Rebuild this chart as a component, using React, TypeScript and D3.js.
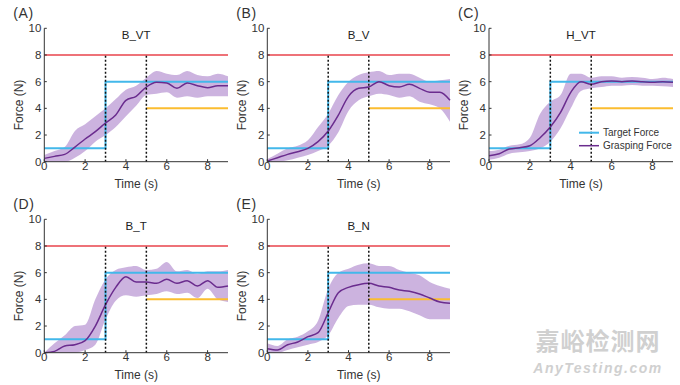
import React, { useEffect, useRef } from "react";
import * as d3 from "d3";

// sample times (s)
const time = [0, 0.5, 1, 1.5, 2, 2.5, 3, 3.5, 4, 4.5, 5, 5.5, 6, 6.5, 7, 7.5, 8, 8.5, 9];

// grasping force: mean and shaded band (N)
const meanBVT = [0.25, 0.4, 0.55, 1.1, 1.7, 2.25, 2.9, 3.5, 4.6, 4.9, 5.6, 5.95, 5.9, 5.5, 5.9, 5.7, 5.55, 5.7, 5.7];
const lowBVT = [0, 0, 0, 0.3, 0.8, 1.5, 2.0, 2.6, 3.4, 4.2, 5.0, 5.1, 5.2, 4.8, 4.9, 4.8, 4.9, 4.9, 4.9];
const highBVT = [0.5, 0.8, 1.1, 2.3, 2.8, 3.4, 4.0, 4.7, 5.4, 5.7, 6.3, 6.8, 6.6, 6.5, 6.8, 6.5, 6.4, 6.6, 6.4];

const meanBV = [0.05, 0.3, 0.55, 0.75, 1.0, 1.5, 2.3, 3.5, 4.9, 5.5, 5.6, 6.0, 5.7, 5.6, 5.8, 5.5, 5.2, 5.2, 4.6];
const lowBV = [0, 0, 0.1, 0.3, 0.5, 0.8, 1.2, 2.2, 3.8, 4.6, 4.9, 5.1, 5.0, 4.8, 4.9, 4.5, 4.3, 4.0, 3.0];
const highBV = [0.2, 0.6, 1.0, 1.2, 1.6, 2.6, 3.6, 5.0, 6.0, 6.5, 6.7, 6.8, 6.5, 6.6, 6.6, 6.3, 6.0, 6.1, 6.2];

const meanHVT = [0.45, 0.6, 0.95, 1.05, 1.2, 1.8, 2.6, 3.7, 5.2, 6.0, 5.8, 6.0, 6.05, 6.0, 6.05, 6.0, 5.95, 6.0, 5.95];
const lowHVT = [0.15, 0.3, 0.6, 0.7, 0.8, 1.0, 1.5, 2.5, 4.0, 5.3, 5.5, 5.6, 5.7, 5.7, 5.75, 5.7, 5.7, 5.65, 5.6];
const highHVT = [0.8, 0.9, 1.2, 1.3, 1.8, 3.6, 4.5, 5.0, 6.6, 6.6, 6.3, 6.4, 6.4, 6.3, 6.35, 6.3, 6.2, 6.3, 6.2];

const meanBT = [0, 0.1, 0.5, 0.6, 0.9, 2.0, 3.6, 4.9, 5.7, 5.3, 5.3, 5.2, 5.5, 5.2, 5.4, 5.0, 5.4, 4.9, 5.0];
const lowBT = [0, 0, 0, 0, 0.2, 0.6, 2.5, 3.9, 4.3, 4.2, 4.3, 4.4, 4.6, 4.4, 4.5, 4.1, 4.8, 4.0, 3.8];
const highBT = [0, 0.7, 1.3, 2.0, 2.1, 4.0, 5.5, 6.2, 6.4, 6.5, 6.2, 6.3, 6.8, 6.1, 6.2, 5.9, 6.1, 6.1, 6.2];

const meanBN = [0.3, 0.2, 0.6, 0.8, 1.2, 1.5, 3.0, 4.5, 4.9, 5.1, 5.2, 5.0, 4.9, 4.7, 4.6, 4.4, 4.1, 3.8, 3.7];
const lowBN = [0, 0, 0.2, 0.4, 0.6, 0.8, 1.3, 2.6, 3.5, 3.6, 3.6, 3.4, 3.3, 3.3, 3.1, 2.8, 2.5, 2.5, 2.5];
const highBN = [0.7, 0.5, 1.0, 1.2, 1.6, 2.4, 4.8, 6.0, 6.3, 6.6, 6.7, 6.5, 6.5, 6.2, 6.0, 5.8, 5.3, 5.0, 4.8];

// reference lines
const targetTime = [0, 3, 3, 9];
const targetForce = [1, 1, 6, 6];
const limitForce = 8;
const lowerTime = [5, 9];
const lowerForce = 4;
const markerTimes = [3, 5];

const titles = ["B_VT", "B_V", "H_VT", "B_T", "B_N"];
const letters = ["(A)", "(B)", "(C)", "(D)", "(E)"];
const xTicks = [0, 2, 4, 6, 8];
const yTicks = [0, 2, 4, 6, 8, 10];
const legendLabels = ["Target Force", "Grasping Force"];

const panels = [
  { mean: meanBVT, low: lowBVT, high: highBVT },
  { mean: meanBV, low: lowBV, high: highBV },
  { mean: meanHVT, low: lowHVT, high: highHVT },
  { mean: meanBT, low: lowBT, high: highBT },
  { mean: meanBN, low: lowBN, high: highBN },
];

const boxes = [
  { left: 44.3, right: 228, top: 28.3, bottom: 161.7 },
  { left: 267.3, right: 450, top: 28.3, bottom: 161.7 },
  { left: 489, right: 673, top: 28.3, bottom: 161.7 },
  { left: 44.3, right: 228, top: 219.3, bottom: 352.7 },
  { left: 267.3, right: 450, top: 219.3, bottom: 352.7 },
];

const RED = "#e8434b";
const BLUE = "#43b8ea";
const ORANGE = "#fbbd30";
const PURPLE = "#6a2c8e";
const BAND = "#c7abdb";
const INK = "#333";
const FONT = "Arial, 'Liberation Sans', sans-serif";

export default function App() {
  const ref = useRef<SVGSVGElement>(null);

  useEffect(() => {
    const svg = d3.select(ref.current);
    svg.selectAll("*").remove();

    panels.forEach((p, i) => {
      const b = boxes[i];
      const x = d3.scaleLinear().domain([0, 9]).range([b.left, b.right]);
      const y = d3.scaleLinear().domain([0, 10]).range([b.bottom, b.top]);
      const g = svg.append("g");

      const area = d3
        .area<number>()
        .x((_, k) => x(time[k]))
        .y0((_, k) => y(p.low[k]))
        .y1((_, k) => y(p.high[k]))
        .curve(d3.curveMonotoneX);
      g.append("path").attr("d", area(p.mean)).attr("fill", BAND).attr("opacity", 0.9);

      g.append("line")
        .attr("x1", x(0)).attr("x2", x(9))
        .attr("y1", y(limitForce)).attr("y2", y(limitForce))
        .attr("stroke", RED).attr("stroke-width", 1.6);

      const step = d3.line<number>().x((t) => x(t)).y((_, k) => y(targetForce[k]));
      g.append("path").attr("d", step(targetTime)).attr("fill", "none")
        .attr("stroke", BLUE).attr("stroke-width", 2);

      g.append("line")
        .attr("x1", x(lowerTime[0])).attr("x2", x(lowerTime[1]))
        .attr("y1", y(lowerForce)).attr("y2", y(lowerForce))
        .attr("stroke", ORANGE).attr("stroke-width", 2);

      const line = d3.line<number>().x((_, k) => x(time[k])).y((v) => y(v)).curve(d3.curveMonotoneX);
      g.append("path").attr("d", line(p.mean)).attr("fill", "none")
        .attr("stroke", PURPLE).attr("stroke-width", 1.5);

      markerTimes.forEach((t) => {
        g.append("line")
          .attr("x1", x(t)).attr("x2", x(t))
          .attr("y1", y(0)).attr("y2", y(limitForce))
          .attr("stroke", "#111").attr("stroke-width", 1.5)
          .attr("stroke-dasharray", "2,2");
      });

      // axes
      g.append("line").attr("x1", b.left).attr("x2", b.left).attr("y1", b.top).attr("y2", b.bottom)
        .attr("stroke", INK).attr("stroke-width", 1);
      g.append("line").attr("x1", b.left).attr("x2", b.right).attr("y1", b.bottom).attr("y2", b.bottom)
        .attr("stroke", INK).attr("stroke-width", 1);

      yTicks.forEach((v) => {
        g.append("line").attr("x1", b.left).attr("x2", b.left + 2.5).attr("y1", y(v)).attr("y2", y(v))
          .attr("stroke", INK);
        g.append("text").attr("x", b.left - 3).attr("y", y(v) + 4)
          .attr("text-anchor", "end").attr("font-size", 11.5).attr("font-family", FONT)
          .attr("fill", INK).text(v);
      });
      xTicks.forEach((v) => {
        g.append("line").attr("x1", x(v)).attr("x2", x(v)).attr("y1", b.bottom).attr("y2", b.bottom - 2.5)
          .attr("stroke", INK);
        g.append("text").attr("x", x(v)).attr("y", b.bottom + 8.5)
          .attr("text-anchor", "middle").attr("font-size", 11.5).attr("font-family", FONT)
          .attr("fill", INK).text(v);
      });

      g.append("text").attr("x", (b.left + b.right) / 2).attr("y", b.bottom + 26)
        .attr("text-anchor", "middle").attr("font-size", 12).attr("font-family", FONT)
        .attr("fill", INK).text("Time (s)");
      g.append("text")
        .attr("transform", `translate(${b.left - 21},${(b.top + b.bottom) / 2 + 10}) rotate(-90)`)
        .attr("text-anchor", "middle").attr("font-size", 12).attr("font-family", FONT)
        .attr("fill", INK).text("Force (N)");

      g.append("text").attr("x", (b.left + b.right) / 2).attr("y", b.top + 10.7)
        .attr("text-anchor", "middle").attr("font-size", 11.5).attr("font-family", FONT)
        .attr("fill", "#222").text(titles[i]);
      g.append("text").attr("x", b.left - 31).attr("y", b.top - 10.5)
        .attr("font-size", 14).attr("font-family", FONT).attr("letter-spacing", 0.6)
        .attr("fill", INK).text(letters[i]);

      if (i === 2) {
        const colors = [BLUE, PURPLE];
        legendLabels.forEach((label, k) => {
          const ly = 132.7 + k * 13;
          g.append("line").attr("x1", 579).attr("x2", 599).attr("y1", ly).attr("y2", ly)
            .attr("stroke", colors[k]).attr("stroke-width", k === 0 ? 2 : 1.5);
          g.append("text").attr("x", 603).attr("y", ly + 3.5)
            .attr("font-size", 10).attr("font-family", FONT)
            .attr("fill", INK).text(label);
        });
      }
    });

    // watermark
    svg.append("text").attr("x", 598).attr("y", 350)
      .attr("text-anchor", "middle").attr("font-size", 24).attr("font-weight", "bold")
      .attr("letter-spacing", 1)
      .attr("font-family", "'Noto Sans CJK SC', sans-serif").attr("fill", "#d0d0d0")
      .text("嘉峪检测网");
    svg.append("text").attr("x", 598).attr("y", 373)
      .attr("text-anchor", "middle").attr("font-size", 14).attr("font-weight", "bold")
      .attr("font-style", "italic").attr("letter-spacing", 1.5)
      .attr("font-family", FONT).attr("fill", "#d0d0d0")
      .text("AnyTesting.com");
  }, []);

  return (
    <svg
      ref={ref}
      width={680}
      height={385}
      style={{ position: "absolute", left: 0, top: 0, background: "#fff" }}
    />
  );
}
